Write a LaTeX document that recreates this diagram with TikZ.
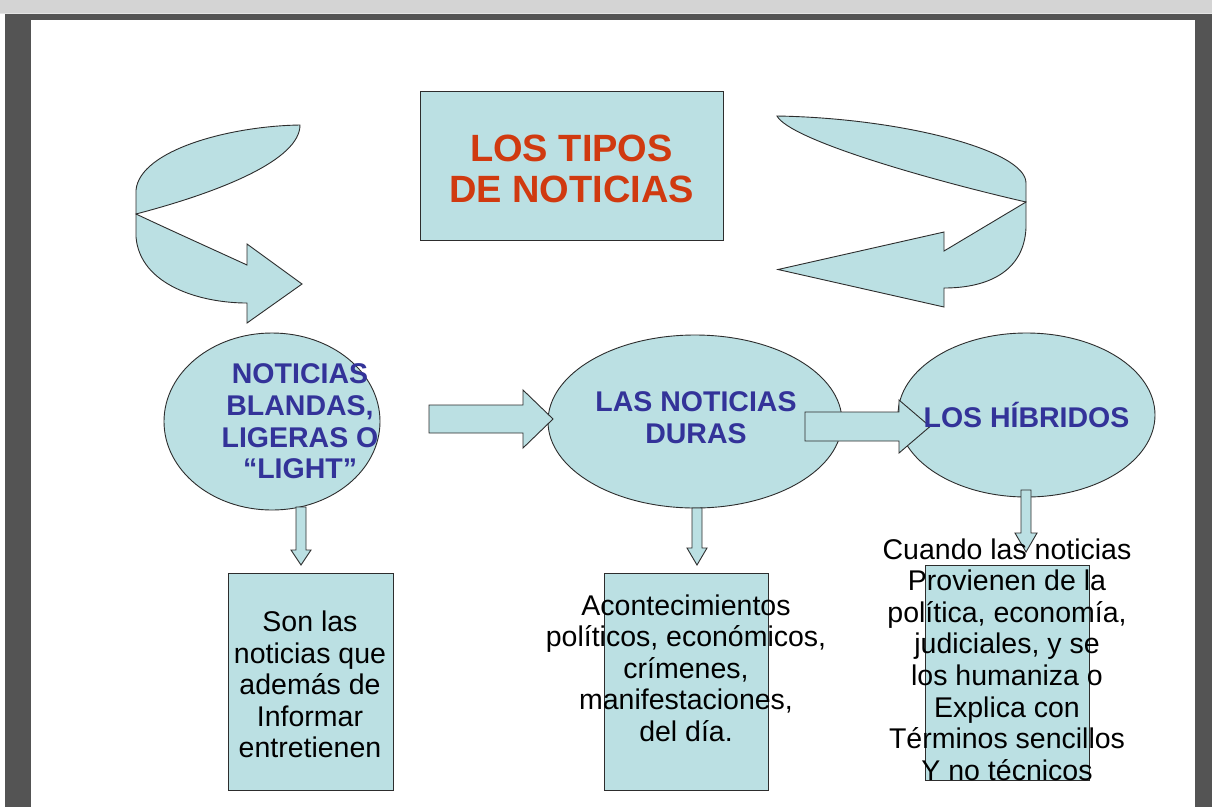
\documentclass[tikz,border=0pt]{standalone}
\usepackage{fontspec}
\setmainfont{Liberation Sans}
\usetikzlibrary{shapes.geometric}
\definecolor{shapefill}{RGB}{187,224,227}
\definecolor{shapeline}{RGB}{45,45,45}
\definecolor{titlered}{RGB}{208,58,16}
\definecolor{textblue}{RGB}{51,51,153}
\definecolor{chromedark}{RGB}{84,84,84}
\definecolor{chromelight}{RGB}{212,212,212}
\tikzset{
  shp/.style={fill=shapefill, draw=shapeline, line width=0.9pt, line join=miter},
  ell/.style={ellipse, shp, inner sep=0pt, outer sep=0pt},
  boxnode/.style={rectangle, shp, inner sep=0pt, outer sep=0pt},
  bluetext/.style={text=textblue, font=\fontsize{28.5}{31.6}\selectfont\bfseries, align=center, inner sep=0pt},
  blacktext/.style={text=black, font=\fontsize{28.5}{31.6}\selectfont, align=center, inner sep=0pt},
  redtext/.style={text=titlered, font=\fontsize{38}{41}\selectfont\bfseries, align=center, inner sep=0pt}
}
\begin{document}
\begin{tikzpicture}[x=1pt,y=-1pt]
\useasboundingbox (0,0) rectangle (1212,807);
% viewer chrome
\fill[chromedark] (0,0) rectangle (1212,807);
\fill[white] (0,14) rectangle (5,807);
\fill[chromelight] (0,0) rectangle (1212,12.5);
\fill[black!10] (0,12.5) rectangle (1212,14);
\fill[white] (31,20) rectangle (1194.5,807);

% title
\node[boxnode, minimum width=303pt, minimum height=149pt] (title) at (571.5,165.5) {};

% curved arrows
\path[shp] (300,125) .. controls (230,126) and (140,150) .. (136,190) -- (136,214)
  .. controls (220,192) and (300,160) .. (300,125) -- cycle;
\path[shp] (136,214) -- (136,237) .. controls (140,285) and (200,303) .. (247,303)
  -- (247,323) -- (302,284) -- (247,244) -- (247,265)
  .. controls (210,248) and (170,230) .. (136,214) -- cycle;
\path[shp] (777,116) .. controls (900,118) and (1026,150) .. (1026,183) -- (1026,202)
  .. controls (930,180) and (790,140) .. (777,116) -- cycle;
\path[shp] (1026,202) -- (1026,228) .. controls (1024,270) and (990,288) .. (944,288)
  -- (944,307) -- (778,269.5) -- (944,232) -- (944,251) -- cycle;

% ellipses
\node[ell, minimum width=216pt, minimum height=177pt] (e1) at (272,421.5) {};
\node[ell, minimum width=294pt, minimum height=173pt] (e2) at (695,421.5) {};
\node[ell, minimum width=257pt, minimum height=164pt] (e3) at (1026.5,415) {};

% boxes
\node[boxnode, minimum width=165pt, minimum height=217pt] (b1) at (310.5,681.5) {};
\node[boxnode, minimum width=164pt, minimum height=217pt] (b2) at (686,681.5) {};
\node[boxnode, minimum width=164pt, minimum height=215pt] (b3) at (1007,672.5) {};

% block arrows
\path[shp] (429,405) -- (523,405) -- (523,390) -- (553,419) -- (523,448) -- (523,433) -- (429,433) -- cycle;
\path[shp] (805,412) -- (899,412) -- (899,400) -- (930,426.5) -- (899,453) -- (899,441) -- (805,441) -- cycle;
\path[shp] (296,507) -- (306,507) -- (306,550) -- (311,550) -- (301,565) -- (291,550) -- (296,550) -- cycle;
\path[shp] (692,508) -- (702,508) -- (702,548) -- (707,548) -- (697,565) -- (687,548) -- (692,548) -- cycle;
\path[shp] (1021,490) -- (1031,490) -- (1031,533) -- (1037,533) -- (1026,552) -- (1015,533) -- (1021,533) -- cycle;

% texts
\node[redtext] (titletext) at (571.5,168.5) {LOS TIPOS\\DE NOTICIAS};
\node[bluetext] (t1) at (300,421.5) {NOTICIAS\\BLANDAS,\\LIGERAS O\\“LIGHT”};
\node[bluetext] (t2) at (696,417.5) {LAS NOTICIAS\\DURAS};
\node[bluetext] (t3) at (1026.5,415) {LOS HÍBRIDOS};
\node[blacktext] (d1) at (310,684.5) {Son las\\noticias que\\además de\\Informar\\entretienen};
\node[blacktext] (d2) at (686,668) {Acontecimientos\\políticos, económicos,\\crímenes,\\manifestaciones,\\del día.};
\node[blacktext] (d3) at (1007,659.5) {Cuando las noticias\\Provienen de la\\política, economía,\\judiciales, y se\\los humaniza o\\Explica con\\Términos sencillos\\Y no técnicos};
\end{tikzpicture}
\end{document}
